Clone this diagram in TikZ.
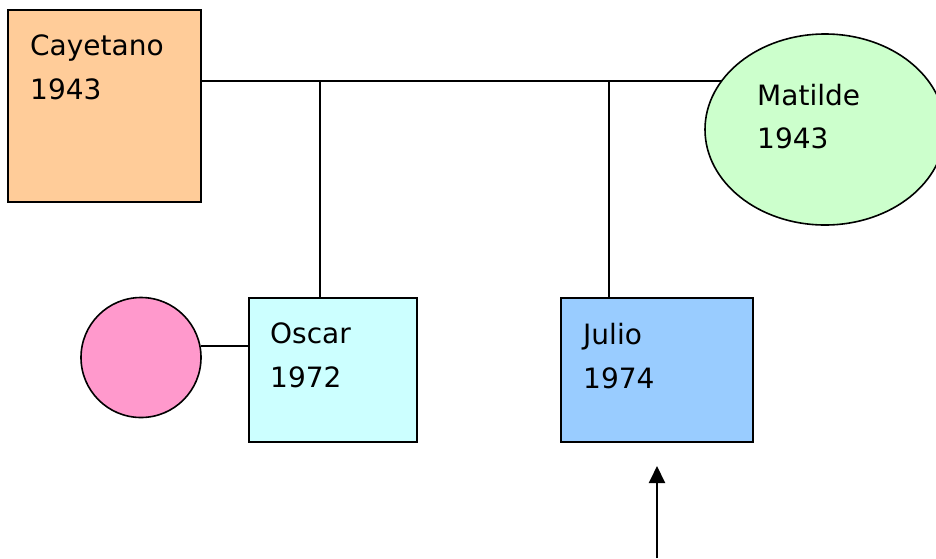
\documentclass[tikz,border=0pt]{standalone}
\usepackage{fontspec}
\setmainfont{DejaVu Sans}
\usetikzlibrary{shapes.geometric,arrows.meta}

\definecolor{peach}{HTML}{FFCC99}
\definecolor{mint}{HTML}{CCFFCC}
\definecolor{rose}{HTML}{FF99CC}
\definecolor{icecyan}{HTML}{CCFFFF}
\definecolor{skyblue}{HTML}{99CCFF}

\tikzset{
  person/.style={draw=black, line width=2pt, rectangle, inner sep=0pt},
  female/.style={draw=black, line width=1.6pt, inner sep=0pt},
  tie/.style={draw=black, line width=2pt},
  lbl/.style={anchor=base west, inner sep=0pt, font=\fontsize{28}{32}\selectfont}
}

\begin{document}
\begin{tikzpicture}[x=1pt, y=-1pt]
\useasboundingbox[fill=white] (0,0) rectangle (936,558);

% people
\node[person, fill=peach, minimum width=193pt, minimum height=192pt] (cay) at (104.5,106) {};
\node[female, ellipse, fill=mint, minimum width=240pt, minimum height=191pt] (mat) at (825,129.5) {};
\node[female, circle, fill=rose, minimum size=120pt] (sp) at (141,357.5) {};
\node[person, fill=icecyan, minimum width=168pt, minimum height=144pt] (osc) at (333,370) {};
\node[person, fill=skyblue, minimum width=192pt, minimum height=144pt] (jul) at (657,370) {};

% names and years
\node[lbl] (cayname) at (30,55) {Cayetano};
\node[lbl] (cayyear) at (30,99) {1943};
\node[lbl] (matname) at (757,105) {Matilde};
\node[lbl] (matyear) at (757,148) {1943};
\node[lbl] (oscname) at (270,343) {Oscar};
\node[lbl] (oscyear) at (270,387) {1972};
\node[lbl] (julname) at (583,344) {Julio};
\node[lbl] (julyear) at (583,388) {1974};

% marriage line and descent lines
\draw[tie] (cay.north east |- mat.155.5) -- (mat.155.5);
\coordinate (d1) at (320,82);
\coordinate (d2) at (609,82);
\draw[tie] (d1) -- (d1 |- osc.north);
\draw[tie] (d2) -- (d2 |- jul.north);

% Oscar's partner
\draw[tie] (sp.11) -- (sp.11 -| osc.west);

% index pointer
\coordinate (src) at (657,558);
\coordinate (tip) at (657,466);
\draw[tie, -{Triangle[width=16pt,length=17pt]}] (src) -- (tip);
\end{tikzpicture}
\end{document}
